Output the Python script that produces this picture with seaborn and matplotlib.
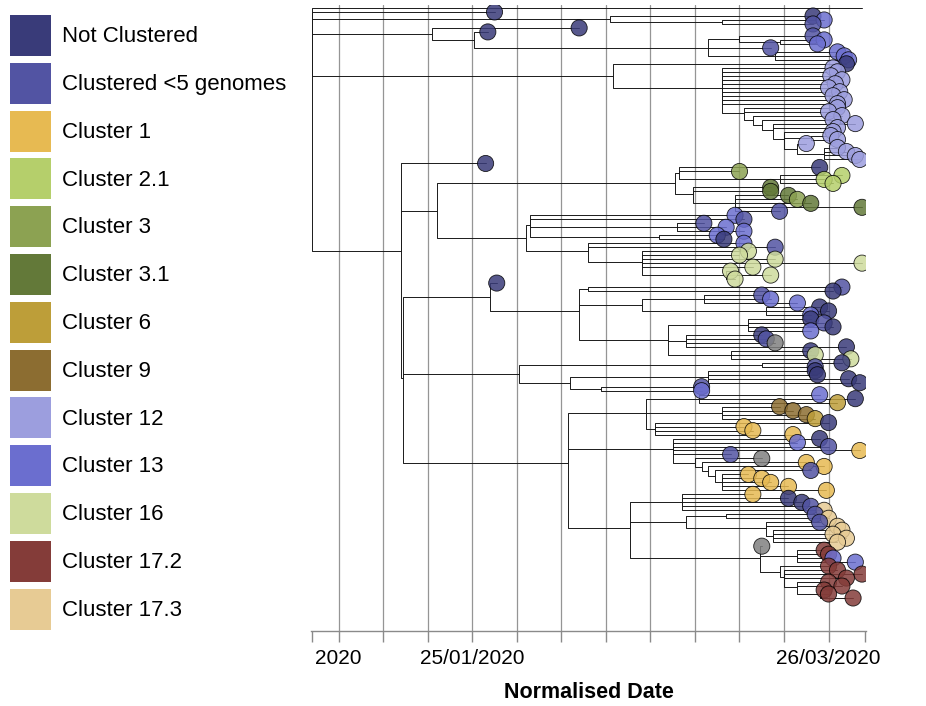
import numpy as np
import pandas as pd
import matplotlib
matplotlib.use("Agg")
import matplotlib.pyplot as plt
import seaborn as sns
from matplotlib.patches import Patch
from matplotlib import font_manager as fm

# ---------------- data ----------------
group_codes = ['NC', 'LT5', '1', '2.1', '3', '3.1', '6', '9', '12', '13', '16', '17.2', '17.3']
group_labels = ['Not Clustered', 'Clustered <5 genomes', 'Cluster 1', 'Cluster 2.1', 'Cluster 3',
                'Cluster 3.1', 'Cluster 6', 'Cluster 9', 'Cluster 12', 'Cluster 13', 'Cluster 16',
                'Cluster 17.2', 'Cluster 17.3']
group_colors = ['#393b79', '#5254a3', '#e7ba52', '#b5cf6b', '#8ca252', '#637939', '#bd9e39',
                '#8c6d31', '#9c9ede', '#6b6ecf', '#cedb9c', '#843c39', '#e7cb94']
other_code = 'NA'
other_color = '#808080'

tick_positions = list(range(12))
tick_labels = ['2020', '', '', '25/01/2020', '', '', '', '', '', '', '', '26/03/2020']
x_label = 'Normalised Date'

# internal nodes (normalised date units, one unit = one tick)
node_name = (['R', 'A', 'A2', 'B', 'B2', 'B3', 'B4', 'B5', 'B6']
             + ['C', 'C2', 'C3', 'C4', 'C5', 'C6', 'C7', 'C8', 'C9', 'C10']
             + ['D', 'E', 'G', 'G1', 'G2', 'G3', 'G4', 'H', 'H1', 'H2', 'H3', 'H4', 'H5', 'H6']
             + ['D2', 'I', 'I1', 'I2', 'I3', 'I4', 'I5', 'I6', 'I7', 'I8', 'I9']
             + ['K', 'K1', 'K2', 'K3', 'K4', 'J', 'J1', 'J2', 'J4', 'J5']
             + ['L', 'L1', 'L2', 'L3', 'L4', 'L5']
             + ['M', 'N1', 'N2', 'N3', 'N4', 'N5', 'O', 'O1', 'O2', 'O3', 'O4', 'O5'])
node_parent = ([None, 'R', 'A', 'R', 'B', 'B2', 'B3', 'B4', 'B3']
               + ['R', 'C', 'C2', 'C3', 'C4', 'C5', 'C6', 'C7', 'C7', 'C9']
               + ['R', 'D', 'E', 'G', 'G1', 'G', 'G3', 'E', 'H', 'H1', 'H1', 'H', 'H4', 'H5']
               + ['D', 'D2', 'I', 'I1', 'I1', 'I3', 'I3', 'I1', 'I6', 'I6', 'I6']
               + ['D2', 'K', 'K', 'K2', 'K2', 'D2', 'J', 'J1', 'J1', 'J1']
               + ['J', 'L', 'L1', 'L2', 'L3', 'L4']
               + ['J', 'M', 'M', 'N2', 'N2', 'N4', 'M', 'O', 'O', 'O2', 'O3', 'O4'])
node_date = ([-0.6, 6.1, 8.6, 2.1, 3.05, 8.3, 9.0, 9.9, 9.8]
             + [6.15, 8.6, 9.1, 9.3, 9.5, 9.75, 10.0, 10.6, 10.3, 10.9]
             + [1.39, 2.2, 7.55, 7.65, 9.9, 7.95, 8.9, 4.2, 4.3, 7.6, 7.2, 5.6, 6.8, 8.7]
             + [1.45, 3.4, 5.4, 5.6, 6.8, 8.2, 9.6, 7.4, 9.2, 7.8, 8.8]
             + [4.05, 9.5, 5.2, 8.3, 5.9, 5.15, 6.9, 8.1, 8.6, 7.1]
             + [7.5, 8.0, 8.15, 8.3, 8.45, 8.6]
             + [6.55, 7.7, 7.8, 8.7, 9.6, 9.75, 9.45, 10.3, 9.9, 10.0, 10.3, 10.8])

# tips, top to bottom
tip_parent = (['R', 'R', 'A', 'A2', 'A2', 'B', 'B2', 'B4', 'B5', 'B5', 'B3', 'B6', 'B6', 'B6']
              + ['C'] + ['C2'] * 10 + ['C3'] * 2 + ['C4', 'C5', 'C6', 'C6', 'C7', 'C8', 'C8', 'C9']
              + ['C10'] * 4
              + ['D', 'G1', 'G1', 'G2', 'G2', 'G2', 'G3', 'G3', 'G4', 'G4', 'G4', 'G4', 'G4']
              + ['H1', 'H1', 'H2', 'H2', 'H2', 'H3', 'H3', 'H4', 'H4'] + ['H5'] * 5 + ['H6'] * 3
              + ['I', 'I2', 'I2', 'I4', 'I4', 'I4', 'I5', 'I5', 'I5'] + ['I7'] * 4 + ['I8'] * 4
              + ['I9'] * 3
              + ['K1', 'K1'] + ['K3'] * 4 + ['K4', 'K4'] + ['J2'] * 3 + ['J4'] * 4 + ['J5'] * 4
              + ['L'] * 5 + ['L1', 'L2', 'L3', 'L4'] + ['L5'] * 5
              + ['N1'] * 5 + ['N3', 'N3', 'N4', 'N4'] + ['N5'] * 4 + ['O'] + ['O1'] * 4
              + ['O2'] + ['O3'] * 3 + ['O4'] * 2 + ['O5'] * 3)
tip_date = ([11.75, 3.5, 10.65, 10.9, 10.65, 5.4, 3.35, 10.65, 10.9, 10.75, 9.7, 11.2, 11.35, 11.45]
            + [11.4] + [11.1, 11.2, 11.05, 11.3, 11.15, 11.0, 11.25, 11.1, 11.35, 11.2]
            + [11.2, 11.0] + [11.3, 11.1, 11.6, 11.2, 11.1, 11.05, 11.2, 10.5]
            + [11.2, 11.4, 11.6, 11.7]
            + [3.3, 10.8, 9.0, 11.3, 10.9, 11.1, 9.7, 9.7, 10.1, 10.3, 10.6, 11.75, 9.9]
            + [8.9, 9.1, 8.2, 8.7, 9.1, 8.5, 8.65, 9.1, 9.8] + [9.2, 9.0, 9.8, 11.75, 9.3]
            + [8.8, 9.7, 8.9]
            + [3.55, 11.3, 11.1, 9.5, 9.7, 10.3, 10.8, 11.0, 10.6] + [10.6, 10.9, 11.1, 10.6]
            + [9.5, 9.6, 9.8, 11.4] + [10.6, 10.7, 11.5]
            + [11.3, 10.7] + [10.7, 10.75, 11.45, 11.7] + [8.15, 8.15] + [10.8, 11.6, 11.2]
            + [9.9, 10.2, 10.5, 10.7] + [11.0, 9.1, 9.3, 10.2]
            + [10.8, 10.3, 11.0, 11.7, 8.8] + [9.5, 10.5, 10.9, 10.6] + [9.2, 9.5, 9.7, 10.1, 10.95]
            + [9.3, 10.1, 10.4, 10.6, 10.9] + [10.7, 11.0, 10.8, 11.2] + [11.3, 11.1, 11.4, 11.2]
            + [9.5] + [10.9, 11.0, 11.1, 11.6] + [11.0] + [11.2, 11.75, 11.4] + [11.0, 11.3]
            + [10.9, 11.0, 11.55])
tip_group = (['', 'NC', 'NC', '13', 'LT5', 'NC', 'NC', 'LT5', '13', '13', 'LT5', '13', '13', '13']
             + ['NC'] + ['12'] * 10 + ['12'] * 2 + ['12'] * 8 + ['12'] * 4
             + ['NC', 'NC', '3', '2.1', '2.1', '2.1', '3.1', '3.1', '3.1', '3', '3.1', '3.1', 'LT5']
             + ['13', 'LT5', 'LT5', '13', '13', '13', 'NC', '13', 'LT5'] + ['16'] * 5 + ['16'] * 3
             + ['NC', 'LT5', 'NC', 'LT5', '13', '13', 'NC', 'NC', '13'] + ['NC', 'LT5', 'NC', '13']
             + ['NC', 'LT5', 'NA', 'NC'] + ['NC', '16', '16']
             + ['NC', 'LT5'] + ['NC'] * 4 + ['LT5', '13'] + ['13', 'NC', '6']
             + ['9', '9', '9', '6'] + ['NC', '1', '1', '1']
             + ['NC', '13', 'LT5', '1', 'LT5'] + ['NA', '1', '1', 'LT5'] + ['1'] * 5
             + ['1', 'NC', 'NC', 'LT5', '17.3'] + ['LT5', '17.3', 'LT5', '17.3'] + ['17.3'] * 4
             + ['NA'] + ['17.2', '17.2', '13', '13'] + ['17.2'] + ['17.2'] * 3 + ['17.2'] * 2
             + ['17.2'] * 3)

assert len(node_name) == len(node_parent) == len(node_date)
assert len(tip_parent) == len(tip_date) == len(tip_group)

# ---------------- layout of the tree ----------------
n_tips = len(tip_parent)
node_idx = {n: i for i, n in enumerate(node_name)}
children = {n: [] for n in node_name}
for i, p in enumerate(tip_parent):
    children[p].append(('tip', i))
for n, p in zip(node_name, node_parent):
    if p is not None:
        children[p].append(('node', n))

node_y = {}


def y_of(kind, ref):
    if kind == 'tip':
        return float(ref)
    if ref not in node_y:
        node_y[ref] = float(np.mean([y_of(k, r) for k, r in children[ref]]))
    return node_y[ref]


for n in node_name:
    y_of('node', n)

rows = []
seg = 0
for i, (p, d) in enumerate(zip(tip_parent, tip_date)):
    px, py = node_date[node_idx[p]], node_y[p]
    for x, y in [(px, py), (px, i), (d, i)]:
        rows.append((seg, x, y))
    seg += 1
for n, p, d in zip(node_name, node_parent, node_date):
    if p is None:
        continue
    px, py = node_date[node_idx[p]], node_y[p]
    for x, y in [(px, py), (px, node_y[n]), (d, node_y[n])]:
        rows.append((seg, x, y))
    seg += 1
branches = pd.DataFrame(rows, columns=['seg', 'x', 'y'])

tips = pd.DataFrame({'date': tip_date, 'y': np.arange(n_tips), 'group': tip_group})
tips = tips[tips['group'] != '']

palette = dict(zip(group_codes, group_colors))
palette[other_code] = other_color

# ---------------- fonts ----------------
def pick(fams):
    for f in fams:
        try:
            fm.findfont(fm.FontProperties(family=f), fallback_to_default=False)
            return f
        except Exception:
            pass
    return 'DejaVu Sans'


sns.set_theme(style='white')
font = pick(['Liberation Sans Narrow', 'Liberation Sans', 'Arial'])
narrow = 'Narrow' in font
plt.rcParams['font.family'] = [font, 'DejaVu Sans']
plt.rcParams['text.color'] = 'black'
plt.rcParams['axes.labelcolor'] = 'black'
plt.rcParams['xtick.labelcolor'] = 'black'
leg_fs = 19 if narrow else 16
tick_fs = 18 if narrow else 15
lab_fs = 19 if narrow else 15.5

# ---------------- figure ----------------
W, H = 926, 706
fig = plt.figure(figsize=(W / 100, H / 100), dpi=100)
ax_left, ax_right, ax_top, ax_bot = 311, 866, 5, 631
ax = fig.add_axes([ax_left / W, 1 - ax_bot / H, (ax_right - ax_left) / W, (ax_bot - ax_top) / H])

sns.lineplot(data=branches, x='x', y='y', units='seg', estimator=None, sort=False,
             color='#1a1a1a', linewidth=0.7, ax=ax, zorder=2)
sns.scatterplot(data=tips, x='date', y='y', hue='group', palette=palette, s=135, alpha=0.85,
                edgecolor=(0, 0, 0, 0.15), linewidth=0.6, legend=False, ax=ax, zorder=3)

top_px, bot_px = 8, 598
sp = (bot_px - top_px) / (n_tips - 1)
ax.set_ylim((ax_bot - top_px) / sp, -(top_px - ax_top) / sp)
ax.set_xlim(-0.62, 11.84)

ax.set_xticks(tick_positions)
ax.set_xticklabels(tick_labels, fontsize=tick_fs, color='black')
ax.set_xticks([-0.6, 11.82], minor=True)
ax.tick_params(axis='x', which='both', direction='out', length=8, width=1, color='#8a8a8a',
               pad=5, bottom=True)
ax.set_yticks([])
ax.set_ylabel('')
ax.set_xlabel(x_label, fontsize=lab_fs, fontweight='bold', labelpad=10, color='black')
ax.xaxis.grid(True, which='major', color='#959595', linewidth=0.9)
ax.set_axisbelow(True)
for s in ['left', 'top', 'right']:
    ax.spines[s].set_visible(False)
ax.spines['bottom'].set_color('#8a8a8a')
ax.spines['bottom'].set_linewidth(1)

handles = [Patch(facecolor=c, edgecolor='none', label=l) for c, l in zip(group_colors, group_labels)]
sq_pt = 41 * 0.72
hh = (sq_pt / leg_fs - 0.245) / 0.65
leg = fig.legend(handles=handles, loc='upper left', bbox_to_anchor=(10 / W, 1 - 15 / H),
                 frameon=False, fontsize=leg_fs, handlelength=sq_pt / leg_fs, handleheight=hh,
                 handletextpad=8 / leg_fs, labelspacing=(47.8 - 41) * 0.72 / leg_fs,
                 borderpad=0, borderaxespad=0)
for t in leg.get_texts():
    t.set_color('black')

fig.savefig('out.png', dpi=100, facecolor='white')
